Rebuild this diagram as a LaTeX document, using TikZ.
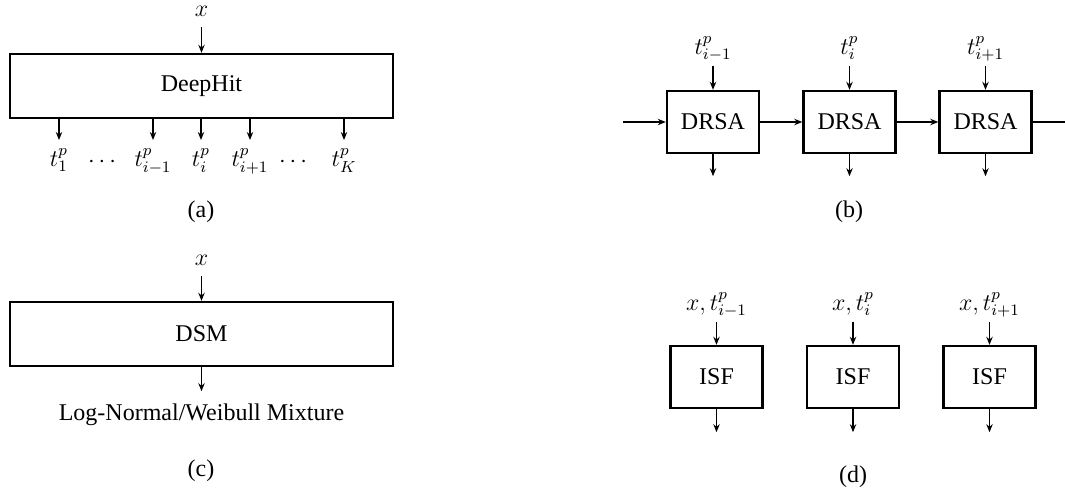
\documentclass[tikz,border=0pt]{standalone}
\usepackage{fontspec}
\setmainfont{Liberation Serif}
\usetikzlibrary{positioning}
\usetikzlibrary{arrows.meta}

\begin{document}
\begin{tikzpicture}[
    x=0.5pt, y=-0.5pt,
    font=\fontsize{12}{14.4}\selectfont,
    box/.style={draw, line width=1.2pt, inner sep=0pt, align=center},
    widebox/.style={box, minimum width=191.5pt, minimum height=32pt},
    smallbox/.style={box, minimum width=46pt, minimum height=31pt},
    inlabel/.style={inner sep=2.5pt, text depth=3pt},
    outlabel/.style={inner sep=4pt, anchor=north},
    xlabel/.style={inner sep=5pt},
    arrow/.style={-{Stealth[length=4pt, width=3.2pt]}, line width=0.6pt}
]
    \useasboundingbox (0,0) rectangle (1065,493);

    % (a) DeepHit: one box, K outputs
    \node[widebox] (deephit) at (201.5,86) {DeepHit};
    \node[xlabel, above=13pt of deephit] (xa) {$x$};
    \node[outlabel] (ta1) at (59,140) {$t^p_1$};
    \node[outlabel] (ta2) at (153,140) {$t^p_{i-1}$};
    \node[outlabel] (ta3) at (201,140) {$t^p_i$};
    \node[outlabel] (ta4) at (250,140) {$t^p_{i+1}$};
    \node[outlabel] (ta5) at (344,140) {$t^p_K$};
    \node (dotsl) at (102,162) {$\cdots$};
    \node (dotsr) at (293,162) {$\cdots$};
    \node (capa) at (201,212) {(a)};

    \draw[arrow] (xa) -- (deephit);
    \draw[arrow] (deephit.south -| ta1) -- (ta1);
    \draw[arrow] (deephit.south -| ta2) -- (ta2);
    \draw[arrow] (deephit.south -| ta3) -- (ta3);
    \draw[arrow] (deephit.south -| ta4) -- (ta4);
    \draw[arrow] (deephit.south -| ta5) -- (ta5);

    % (b) DRSA: recurrent chain
    \node[smallbox] (drsa1) at (713,122) {DRSA};
    \node[smallbox] (drsa2) at (849.5,122) {DRSA};
    \node[smallbox] (drsa3) at (985.5,122) {DRSA};
    \node[inlabel, above=12pt of drsa1] (tb1) {$t^p_{i-1}$};
    \node[inlabel, above=12pt of drsa2] (tb2) {$t^p_i$};
    \node[inlabel, above=12pt of drsa3] (tb3) {$t^p_{i+1}$};
    \coordinate (bin) at (623,122);
    \coordinate (bout) at (1065,122);
    \coordinate[below=11pt of drsa1] (ob1);
    \coordinate[below=11pt of drsa2] (ob2);
    \coordinate[below=11pt of drsa3] (ob3);
    \node (capb) at (849,212) {(b)};

    \draw[arrow] (bin) -- (drsa1);
    \draw[arrow] (drsa1) -- (drsa2);
    \draw[arrow] (drsa2) -- (drsa3);
    \draw[line width=0.6pt] (drsa3) -- (bout);
    \draw[arrow] (tb1) -- (drsa1);
    \draw[arrow] (tb2) -- (drsa2);
    \draw[arrow] (tb3) -- (drsa3);
    \draw[arrow] (drsa1) -- (ob1);
    \draw[arrow] (drsa2) -- (ob2);
    \draw[arrow] (drsa3) -- (ob3);

    % (c) DSM
    \node[widebox] (dsm) at (201.5,334) {DSM};
    \node[xlabel, above=12.5pt of dsm] (xc) {$x$};
    \coordinate[below=12pt of dsm] (dsmout);
    \node[below=3pt of dsmout] (mix) {Log-Normal/Weibull Mixture};
    \node (capc) at (201,471) {(c)};

    \draw[arrow] (xc) -- (dsm);
    \draw[arrow] (dsm) -- (dsmout);

    % (d) ISF: independent boxes
    \node[smallbox] (isf1) at (716.5,377) {ISF};
    \node[smallbox] (isf2) at (853,377) {ISF};
    \node[smallbox] (isf3) at (989.5,377) {ISF};
    \node[inlabel, above=11.5pt of isf1] (td1) {$x, t^p_{i-1}$};
    \node[inlabel, above=11.5pt of isf2] (td2) {$x, t^p_i$};
    \node[inlabel, above=11.5pt of isf3] (td3) {$x, t^p_{i+1}$};
    \coordinate[below=11.5pt of isf1] (od1);
    \coordinate[below=11.5pt of isf2] (od2);
    \coordinate[below=11.5pt of isf3] (od3);
    \node (capd) at (853,477) {(d)};

    \draw[arrow] (td1) -- (isf1);
    \draw[arrow] (td2) -- (isf2);
    \draw[arrow] (td3) -- (isf3);
    \draw[arrow] (isf1) -- (od1);
    \draw[arrow] (isf2) -- (od2);
    \draw[arrow] (isf3) -- (od3);
\end{tikzpicture}
\end{document}
